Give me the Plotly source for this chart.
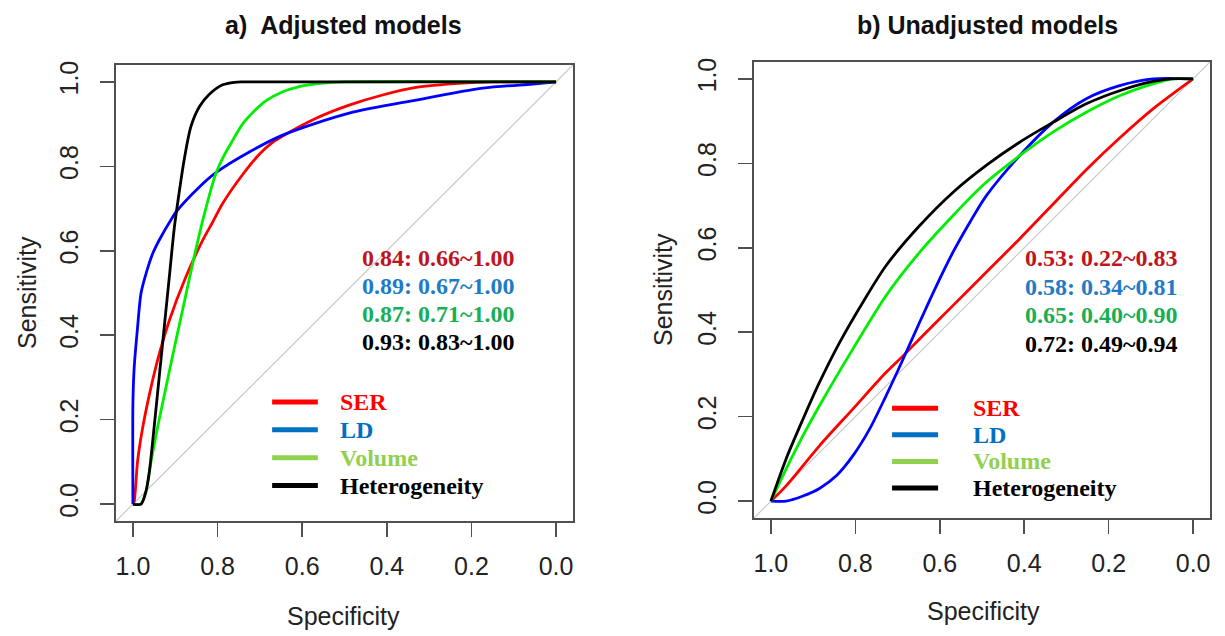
import plotly.graph_objects as go

# ---------------- data ----------------
series_names = ["SER", "LD", "Volume", "Heterogeneity"]
panel_titles = ["a)  Adjusted models", "b) Unadjusted models"]
tick_vals = [1.0, 0.8, 0.6, 0.4, 0.2, 0.0]
tick_text = ["1.0", "0.8", "0.6", "0.4", "0.2", "0.0"]
ytick_vals = [0.0, 0.2, 0.4, 0.6, 0.8, 1.0]
ytick_text = ["0.0", "0.2", "0.4", "0.6", "0.8", "1.0"]

# Panel a: adjusted models (specificity, sensitivity)
adj_ser_spec = [1.0, 0.997, 0.989, 0.977, 0.961, 0.942, 0.914, 0.875, 0.835, 0.812, 0.788, 0.741, 0.700,
                0.670, 0.646, 0.567, 0.489, 0.410, 0.331, 0.221, 0.15, 0.0]
adj_ser_sens = [0.0, 0.007, 0.102, 0.181, 0.260, 0.340, 0.435, 0.538, 0.625, 0.667, 0.712, 0.780, 0.830,
                0.857, 0.872, 0.914, 0.945, 0.969, 0.987, 0.997, 1.0, 1.0]

adj_ld_spec = [1.0, 1.0, 0.997, 0.989, 0.981, 0.969, 0.953, 0.938, 0.906, 0.898, 0.843, 0.804,
               0.725, 0.646, 0.489, 0.331, 0.173, 0.055, 0.0]
adj_ld_sens = [0.0, 0.24, 0.324, 0.419, 0.499, 0.546, 0.594, 0.625, 0.680, 0.692, 0.751, 0.785,
               0.834, 0.874, 0.926, 0.957, 0.985, 0.995, 1.0]

adj_vol_spec = [1.0, 0.981, 0.969, 0.957, 0.942, 0.922, 0.902, 0.883, 0.859, 0.835, 0.804, 0.785, 0.764,
                0.741, 0.709, 0.686, 0.650, 0.607, 0.550, 0.50, 0.0]
adj_vol_sens = [0.0, 0.0, 0.031, 0.102, 0.181, 0.276, 0.371, 0.458, 0.569, 0.672, 0.783, 0.825, 0.862,
                0.900, 0.935, 0.955, 0.975, 0.989, 0.997, 1.0, 1.0]

adj_het_spec = [1.0, 0.981, 0.969, 0.961, 0.950, 0.938, 0.926, 0.914, 0.902, 0.891, 0.879, 0.863, 0.843,
                0.820, 0.788, 0.760, 0.741, 0.0]
adj_het_sens = [0.0, 0.0, 0.031, 0.078, 0.181, 0.300, 0.419, 0.538, 0.656, 0.736, 0.815, 0.894, 0.941,
                0.970, 0.993, 0.999, 1.0, 1.0]

# Panel b: unadjusted models
un_ser_spec = [1.0, 0.964, 0.885, 0.806, 0.727, 0.687, 0.648, 0.569, 0.490, 0.411, 0.332, 0.253, 0.174, 0.095, 0.0]
un_ser_sens = [0.0, 0.036, 0.131, 0.218, 0.305, 0.344, 0.384, 0.463, 0.542, 0.621, 0.703, 0.785, 0.860, 0.929, 1.0]

un_ld_spec = [1.0, 0.964, 0.924, 0.885, 0.845, 0.806, 0.766, 0.727, 0.687, 0.648, 0.608, 0.569, 0.529,
              0.490, 0.411, 0.332, 0.253, 0.174, 0.095, 0.0]
un_ld_sens = [0.0, 0.0, 0.012, 0.030, 0.060, 0.107, 0.171, 0.250, 0.336, 0.423, 0.510, 0.589, 0.660,
              0.723, 0.818, 0.897, 0.953, 0.984, 1.0, 1.0]

un_vol_spec = [1.0, 0.964, 0.924, 0.885, 0.806, 0.727, 0.648, 0.569, 0.490, 0.411, 0.332, 0.253, 0.174,
               0.095, 0.047, 0.0]
un_vol_sens = [0.0, 0.076, 0.155, 0.226, 0.360, 0.487, 0.589, 0.676, 0.755, 0.818, 0.874, 0.921, 0.960,
               0.988, 1.0, 1.0]

un_het_spec = [1.0, 0.964, 0.924, 0.885, 0.837, 0.782, 0.727, 0.648, 0.569, 0.490, 0.411, 0.332, 0.253,
               0.174, 0.095, 0.055, 0.0]
un_het_sens = [0.0, 0.100, 0.194, 0.281, 0.376, 0.471, 0.558, 0.652, 0.731, 0.795, 0.850, 0.897, 0.941,
               0.972, 0.994, 1.0, 1.0]

adj_auc_labels = ["0.84: 0.66~1.00", "0.89: 0.67~1.00", "0.87: 0.71~1.00", "0.93: 0.83~1.00"]
un_auc_labels = ["0.53: 0.22~0.83", "0.58: 0.34~0.81", "0.65: 0.40~0.90", "0.72: 0.49~0.94"]

# ---------------- styles ----------------
curve_colors = ["#FF0000", "#0000FF", "#00EE00", "#000000"]
auc_colors = ["#C0141E", "#1F7BC8", "#18AF55", "#000000"]
legend_line_colors = ["#FF0000", "#0070C0", "#92D050", "#000000"]
legend_text_colors = ["#FF0000", "#0070C0", "#92D050", "#000000"]
SANS = "Liberation Sans, Arial, sans-serif"
SERIF = "Liberation Serif, Times New Roman, serif"
W, H = 1225, 636
AX_RANGE = [1.04, -0.04]
AY_RANGE = [-0.04, 1.04]

panels = [
    dict(curves=[(adj_ser_spec, adj_ser_sens), (adj_ld_spec, adj_ld_sens),
                 (adj_vol_spec, adj_vol_sens), (adj_het_spec, adj_het_sens)],
         auc=adj_auc_labels, xdom=(116, 573), ydom=(65, 521),
         auc_x=0.463, auc_y0=0.584, auc_dy=0.067,
         leg_x0=0.671, leg_x1=0.563, leg_tx=0.515, leg_y0=0.242, leg_dy=0.066,
         title_x=343, xt=(343, 616), yt=(27, 293)),
    dict(curves=[(un_ser_spec, un_ser_sens), (un_ld_spec, un_ld_sens),
                 (un_vol_spec, un_vol_sens), (un_het_spec, un_het_sens)],
         auc=un_auc_labels, xdom=(754, 1210), ydom=(62, 518),
         auc_x=0.403, auc_y0=0.576, auc_dy=0.068,
         leg_x0=0.713, leg_x1=0.604, leg_tx=0.526, leg_y0=0.220, leg_dy=0.063,
         title_x=987, xt=(983, 611), yt=(663, 290)),
]

fig = go.Figure()
annotations = []
shapes = []
layout_axes = {}

for i, p in enumerate(panels):
    sfx = "" if i == 0 else str(i + 1)
    xa, ya = "x" + sfx, "y" + sfx
    # diagonal reference line
    fig.add_trace(go.Scatter(x=AX_RANGE, y=AY_RANGE, mode="lines", xaxis=xa, yaxis=ya,
                             line=dict(color="#C8C8C8", width=1.2), showlegend=False, hoverinfo="skip"))
    for (sx, sy), col, name in zip(p["curves"], curve_colors, series_names):
        fig.add_trace(go.Scatter(x=sx, y=sy, mode="lines", xaxis=xa, yaxis=ya, name=name,
                                 line=dict(color=col, width=2.8, shape="spline", smoothing=0.8),
                                 showlegend=False))
    axis_common = dict(showline=True, linecolor="#505050", linewidth=1.6, mirror=True,
                       showgrid=False, zeroline=False, ticks="outside", ticklen=14,
                       tickwidth=1.5, tickcolor="#505050", automargin=False,
                       tickfont=dict(family=SANS, size=25, color="#222222"))
    layout_axes["xaxis" + sfx] = dict(axis_common, domain=[p["xdom"][0] / W, p["xdom"][1] / W],
                                      range=AX_RANGE, tickvals=tick_vals, ticktext=tick_text,
                                      anchor=ya, ticklabelstandoff=8)
    layout_axes["yaxis" + sfx] = dict(axis_common, domain=[1 - p["ydom"][1] / H, 1 - p["ydom"][0] / H],
                                      range=AY_RANGE, tickvals=ytick_vals, ticktext=ytick_text,
                                      tickangle=-90, anchor=xa, ticklabelstandoff=12)
    # AUC labels
    for k, (txt, col) in enumerate(zip(p["auc"], auc_colors)):
        annotations.append(dict(x=p["auc_x"], y=p["auc_y0"] - k * p["auc_dy"], xref=xa, yref=ya,
                                text="<b>" + txt + "</b>", showarrow=False, xanchor="left",
                                yanchor="middle", font=dict(family=SERIF, size=24, color=col)))
    # custom legend
    for k, (name, lc, tc) in enumerate(zip(series_names, legend_line_colors, legend_text_colors)):
        yy = p["leg_y0"] - k * p["leg_dy"]
        shapes.append(dict(type="line", xref=xa, yref=ya, x0=p["leg_x0"], x1=p["leg_x1"], y0=yy, y1=yy,
                           line=dict(color=lc, width=5)))
        annotations.append(dict(x=p["leg_tx"], y=yy, xref=xa, yref=ya, text="<b>" + name + "</b>",
                                showarrow=False, xanchor="left", yanchor="middle",
                                font=dict(family=SERIF, size=24, color=tc)))
    # title
    annotations.append(dict(x=p["title_x"] / W, y=1 - 25 / H, xref="paper", yref="paper",
                            text="<b>" + panel_titles[i] + "</b>", showarrow=False,
                            xanchor="center", yanchor="middle",
                            font=dict(family=SANS, size=25, color="#111111")))
    # axis titles
    annotations.append(dict(x=p["xt"][0] / W, y=1 - p["xt"][1] / H, xref="paper", yref="paper",
                            text="Specificity", showarrow=False, xanchor="center", yanchor="middle",
                            font=dict(family=SANS, size=25, color="#222222")))
    annotations.append(dict(x=p["yt"][0] / W, y=1 - p["yt"][1] / H, xref="paper", yref="paper",
                            text="Sensitivity", showarrow=False, xanchor="center", yanchor="middle",
                            textangle=-90, font=dict(family=SANS, size=25, color="#222222")))

fig.update_layout(width=W, height=H, margin=dict(l=0, r=0, t=0, b=0),
                  paper_bgcolor="white", plot_bgcolor="white",
                  annotations=annotations, shapes=shapes, showlegend=False, **layout_axes)

fig.write_html("out.html", config={"displayModeBar": False, "staticPlot": True},
               post_script="document.body.style.margin='0';document.body.style.overflow='hidden';")
